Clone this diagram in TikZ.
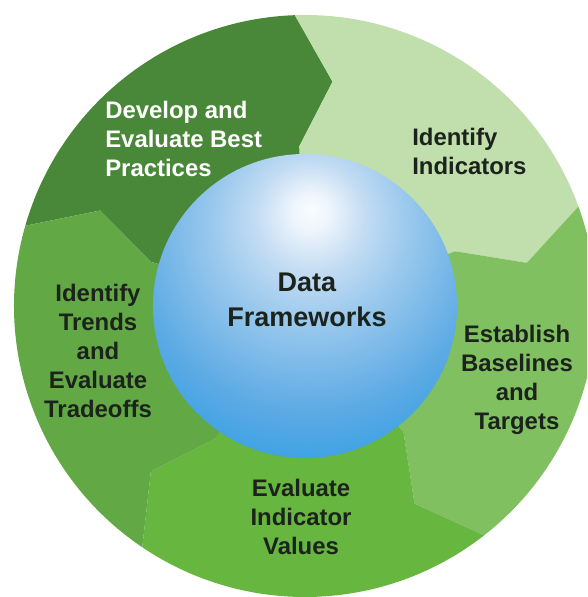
\documentclass[tikz,border=0pt]{standalone}
\usepackage{fontspec}
\setmainfont{Liberation Sans}
\usetikzlibrary{positioning}
\definecolor{cyDevelop}{RGB}{73,135,57}
\definecolor{cyIdent}{RGB}{192,223,172}
\definecolor{cyBase}{RGB}{128,192,96}
\definecolor{cyEval}{RGB}{103,182,64}
\definecolor{cyTrade}{RGB}{98,168,68}
\definecolor{cyText}{RGB}{28,34,28}
\definecolor{cySphA}{RGB}{250,252,255}
\definecolor{cySphB}{RGB}{238,245,252}
\definecolor{cySphC}{RGB}{195,220,243}
\definecolor{cySphD}{RGB}{155,201,237}
\definecolor{cySphE}{RGB}{92,170,228}
\definecolor{cySphF}{RGB}{40,157,228}
\pgfdeclareradialshading{cysphere}{\pgfpoint{1bp}{16bp}}{%
  color(0bp)=(cySphA); color(3bp)=(cySphB); color(9bp)=(cySphC);
  color(16bp)=(cySphD); color(29bp)=(cySphE); color(41bp)=(cySphF);
  color(100bp)=(cySphF)}
\tikzset{
  cy label/.style={
    font=\bfseries\fontsize{17}{20.6}\selectfont, text=cyText,
    align=center, inner sep=0pt
  },
  cy label white/.style={
    cy label, text=white, align=left
  },
  cy title/.style={
    cy label, font=\bfseries\fontsize{19.2}{25}\selectfont
  },
  cy core/.style={
    circle, minimum size=7.6cm, inner sep=0pt, shading=cysphere
  }
}

\begin{document}
\begin{tikzpicture}[x=0.025cm, y=0.025cm]
  \useasboundingbox (-305,-291) rectangle (282,306);
  \clip (-305,-291) rectangle (282,306);

  % ring of five chevron segments
  \foreach \a/\col in {164/cyDevelop, 92/cyIdent, 20/cyBase, -52/cyEval, -124/cyTrade}{
    \fill[\col] (\a:291) arc[start angle=\a, end angle=\a-72, radius=291]
      -- ({\a-81}:226) -- ({\a-72}:160) -- ({\a-72}:140)
      arc[start angle=\a-72, end angle=\a, radius=140]
      -- (\a:160) -- ({\a-9}:226) -- cycle;
  }

  \node (core) [cy core] at (0,0) {};
  \node (data) [cy title] at (2,6) {Data\\Frameworks};

  \node (develop) [cy label white, anchor=west] at (-200,167) {Develop and\\Evaluate Best\\Practices};
  \node (indicators) [cy label, align=left, anchor=west] at (107,155) {Identify\\Indicators};
  \node (baselines) [cy label] at (212,-74) {Establish\\Baselines\\and\\Targets};
  \node (values) [cy label] at (-4,-211) {Evaluate\\Indicator\\Values};
  \node (tradeoffs) [cy label] at (-207,-45) {Identify\\Trends\\and\\Evaluate\\Tradeoffs};
\end{tikzpicture}
\end{document}
